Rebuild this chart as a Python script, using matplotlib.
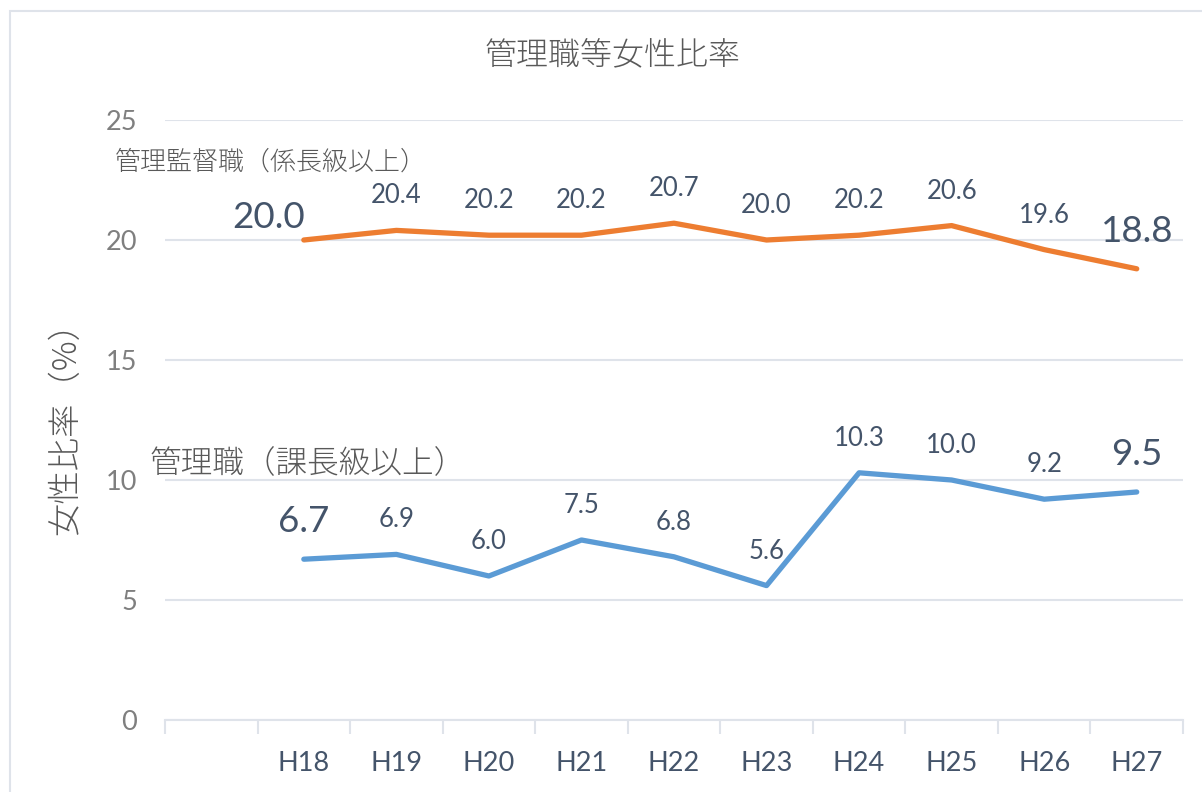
import matplotlib.pyplot as plt
from matplotlib.patches import Rectangle

# data
years = ["H18", "H19", "H20", "H21", "H22", "H23", "H24", "H25", "H26", "H27"]
kakaricho = [20.0, 20.4, 20.2, 20.2, 20.7, 20.0, 20.2, 20.6, 19.6, 18.8]
kacho = [6.7, 6.9, 6.0, 7.5, 6.8, 5.6, 10.3, 10.0, 9.2, 9.5]

title = "管理職等女性比率"
ylabel = "女性比率（%）"
name_kakaricho = "管理監督職（係長級以上）"
name_kacho = "管理職（課長級以上）"

JP = ["Noto Sans CJK JP", "DejaVu Sans"]
NUM = ["Lato", "Noto Sans CJK JP"]
plt.rcParams['font.family'] = JP

W, H = 1202, 792
fig = plt.figure(figsize=(W / 100, H / 100), dpi=100)

# light outer frame (clipped on the right / bottom like the screenshot)
fig.patches.append(Rectangle((9.5 / W, -0.05), 1.2, 1 - 10.5 / H + 0.05,
                             transform=fig.transFigure, fill=False,
                             edgecolor="#dfe3ea", linewidth=1.5))

left, right, top, bottom = 165, 1183, 120, 720
ax = fig.add_axes([left / W, 1 - bottom / H, (right - left) / W, (bottom - top) / H])

# first category slot stays empty, like the original
x = list(range(1, len(years) + 1))
ax.set_xlim(-0.5, len(years) + 0.5)
ax.set_ylim(0, 25)

ax.plot(x, kakaricho, color="#ed7d31", linewidth=3.8, solid_capstyle="round",
        solid_joinstyle="round", zorder=3)
ax.plot(x, kacho, color="#5b9bd5", linewidth=3.8, solid_capstyle="round",
        solid_joinstyle="round", zorder=3)

lab_col = "#44546a"
for series in (kakaricho, kacho):
    for i, (xi, v) in enumerate(zip(x, series)):
        big = i == 0 or i == len(series) - 1
        dx = 0
        dy = 27
        if series is kakaricho and i == 0:
            dx, dy = -35, 12
        ax.annotate(f"{v:.1f}", (xi, v), xytext=(dx, dy), textcoords="offset pixels",
                    ha="center", va="baseline", color=lab_col,
                    fontsize=26.5 if big else 18.5, family=NUM)

# grid + axes styling
ax.set_yticks([0, 5, 10, 15, 20, 25])
ax.yaxis.grid(True, color="#dfe3ea", linewidth=1.5)
ax.set_axisbelow(True)
for s in ("top", "right", "left"):
    ax.spines[s].set_visible(False)
ax.spines["bottom"].set_color("#dfe3ea")
ax.spines["bottom"].set_linewidth(1.5)
ax.tick_params(axis="y", length=0, pad=20, labelsize=19.5, labelcolor="#7f7f7f")
for lab in ax.get_yticklabels():
    lab.set_family(NUM)

ax.set_xticks([i - 0.5 for i in range(len(years) + 2)])
ax.set_xticklabels([])
ax.tick_params(axis="x", direction="out", length=10, width=1.5, color="#dfe3ea")
ax.set_xticks(x, minor=True)
ax.set_xticklabels(years, minor=True)
ax.tick_params(axis="x", which="minor", length=0, pad=22, labelsize=19.5,
               labelcolor=lab_col)
for lab in ax.get_xticklabels(minor=True):
    lab.set_family(NUM)

fig.text(613 / W, 1 - 55 / H, title, ha="center", va="center", fontsize=23,
         color="#595959", fontweight="light")
fig.text(66 / W, 1 - 420 / H, ylabel, ha="center", va="center", rotation=90,
         fontsize=24, color="#595959", fontweight="light")
fig.text(115 / W, 1 - 162 / H, name_kakaricho, ha="left", va="center",
         fontsize=18.7, color="#595959", fontweight="light")
fig.text(150 / W, 1 - 463 / H, name_kacho, ha="left", va="center",
         fontsize=22.8, color="#595959", fontweight="light")

fig.savefig("out.png", dpi=100, facecolor="white")
